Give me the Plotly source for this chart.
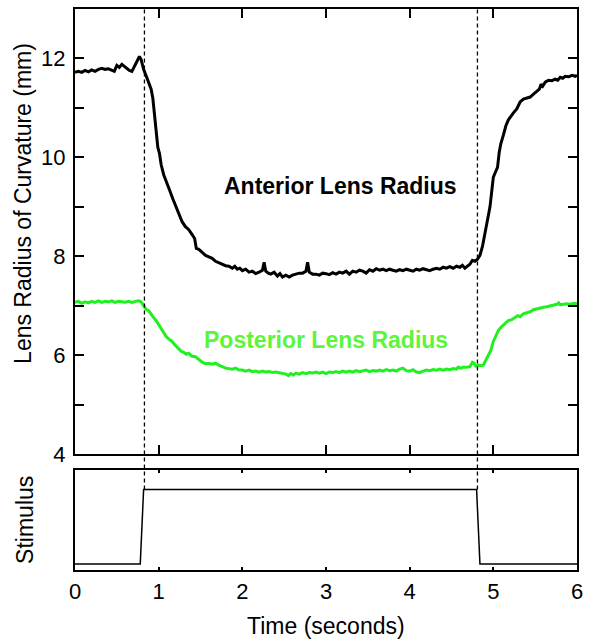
import plotly.graph_objects as go

# ---------------- data ----------------
ant_x = [0.00, 0.04, 0.08, 0.12, 0.16, 0.20, 0.24, 0.28, 0.32, 0.36, 0.40, 0.44, 0.47, 0.50, 0.53,
         0.56, 0.59, 0.62, 0.65, 0.68, 0.72, 0.75, 0.77, 0.79, 0.82, 0.85, 0.88, 0.91, 0.93, 0.95,
         0.97, 0.99, 1.01, 1.03, 1.06, 1.09, 1.13, 1.17, 1.21, 1.25, 1.28, 1.32, 1.36, 1.40, 1.43,
         1.45, 1.48, 1.52, 1.56, 1.60, 1.64, 1.68, 1.72, 1.76, 1.80, 1.84, 1.88, 1.91, 1.94, 1.97,
         2.00, 2.04, 2.08, 2.12, 2.16, 2.20, 2.24, 2.26, 2.28, 2.31, 2.34, 2.38, 2.42, 2.45, 2.48,
         2.52, 2.56, 2.60, 2.64, 2.68, 2.72, 2.76, 2.78, 2.80, 2.84, 2.88, 2.92, 2.96, 3.00, 3.04,
         3.08, 3.12, 3.16, 3.20, 3.24, 3.28, 3.32, 3.36, 3.40, 3.44, 3.48, 3.52, 3.56, 3.60, 3.64,
         3.68, 3.72, 3.76, 3.80, 3.84, 3.88, 3.92, 3.96, 4.00, 4.04, 4.08, 4.12, 4.16, 4.20, 4.24,
         4.28, 4.32, 4.36, 4.40, 4.44, 4.48, 4.52, 4.56, 4.60, 4.63, 4.66, 4.69, 4.72, 4.75, 4.78,
         4.81, 4.84, 4.87, 4.90, 4.93, 4.96, 4.98, 5.00, 5.03, 5.05, 5.07, 5.09, 5.12, 5.15, 5.18,
         5.21, 5.24, 5.28, 5.32, 5.36, 5.40, 5.44, 5.48, 5.52, 5.55, 5.57, 5.59, 5.62, 5.66, 5.70,
         5.74, 5.77, 5.80, 5.83, 5.86, 5.90, 5.94, 5.98, 6.00]
ant_y = [11.72, 11.74, 11.72, 11.76, 11.73, 11.77, 11.74, 11.78, 11.80, 11.78, 11.79, 11.76, 11.74, 11.86, 11.82,
         11.88, 11.84, 11.80, 11.76, 11.74, 11.88, 11.98, 12.04, 11.98, 11.78, 11.65, 11.52, 11.38, 11.20, 10.85,
         10.45, 10.20, 10.08, 9.85, 9.65, 9.50, 9.34, 9.16, 9.00, 8.82, 8.70, 8.60, 8.54, 8.44, 8.36,
         8.16, 8.14, 8.08, 8.02, 7.99, 7.96, 7.90, 7.87, 7.84, 7.81, 7.80, 7.76, 7.80, 7.74, 7.76,
         7.71, 7.74, 7.68, 7.70, 7.65, 7.68, 7.72, 7.88, 7.70, 7.66, 7.64, 7.68, 7.60, 7.65, 7.58,
         7.62, 7.58, 7.62, 7.64, 7.66, 7.66, 7.70, 7.88, 7.68, 7.64, 7.64, 7.62, 7.66, 7.65, 7.63,
         7.67, 7.64, 7.68, 7.66, 7.70, 7.64, 7.70, 7.68, 7.72, 7.70, 7.66, 7.73, 7.70, 7.75, 7.72,
         7.74, 7.71, 7.74, 7.72, 7.70, 7.73, 7.71, 7.74, 7.72, 7.70, 7.74, 7.72, 7.75, 7.73, 7.71,
         7.74, 7.76, 7.74, 7.78, 7.76, 7.79, 7.76, 7.80, 7.78, 7.82, 7.76, 7.80, 7.84, 7.92, 7.90,
         7.94, 8.02, 8.20, 8.46, 8.72, 9.00, 9.30, 9.60, 9.72, 9.80, 10.10, 10.28, 10.45, 10.64, 10.76,
         10.84, 10.90, 10.98, 11.12, 11.18, 11.20, 11.22, 11.28, 11.34, 11.38, 11.48, 11.44, 11.52, 11.56, 11.55,
         11.58, 11.56, 11.62, 11.60, 11.64, 11.63, 11.66, 11.64, 11.66]

post_x = [0.00, 0.04, 0.08, 0.12, 0.16, 0.20, 0.24, 0.28, 0.32, 0.36, 0.40, 0.44, 0.48, 0.52, 0.56,
          0.60, 0.64, 0.68, 0.72, 0.76, 0.79, 0.82, 0.85, 0.88, 0.91, 0.94, 0.97, 1.00, 1.03, 1.06,
          1.09, 1.12, 1.16, 1.20, 1.24, 1.27, 1.30, 1.33, 1.36, 1.40, 1.44, 1.48, 1.52, 1.56, 1.60,
          1.64, 1.68, 1.72, 1.76, 1.80, 1.84, 1.88, 1.92, 1.96, 2.00, 2.04, 2.08, 2.12, 2.16, 2.20,
          2.24, 2.28, 2.32, 2.36, 2.40, 2.44, 2.48, 2.52, 2.55, 2.58, 2.61, 2.64, 2.68, 2.72, 2.76,
          2.80, 2.84, 2.88, 2.92, 2.96, 3.00, 3.04, 3.08, 3.12, 3.16, 3.20, 3.24, 3.28, 3.32, 3.36,
          3.40, 3.44, 3.48, 3.52, 3.56, 3.60, 3.64, 3.68, 3.72, 3.76, 3.80, 3.84, 3.88, 3.92, 3.96,
          4.00, 4.04, 4.08, 4.12, 4.16, 4.20, 4.24, 4.28, 4.32, 4.36, 4.40, 4.44, 4.48, 4.52, 4.56,
          4.58, 4.61, 4.64, 4.68, 4.72, 4.75, 4.77, 4.79, 4.82, 4.85, 4.88, 4.91, 4.94, 4.97, 5.00,
          5.03, 5.06, 5.10, 5.14, 5.18, 5.22, 5.26, 5.29, 5.32, 5.36, 5.40, 5.44, 5.48, 5.52, 5.56,
          5.60, 5.64, 5.68, 5.72, 5.76, 5.78, 5.80, 5.84, 5.88, 5.92, 5.96, 6.00]
post_y = [7.07, 7.09, 7.05, 7.08, 7.06, 7.09, 7.07, 7.10, 7.07, 7.09, 7.08, 7.10, 7.07, 7.09, 7.08,
          7.07, 7.09, 7.07, 7.09, 7.10, 7.08, 7.00, 6.93, 6.90, 6.82, 6.76, 6.70, 6.62, 6.52, 6.44,
          6.38, 6.33, 6.28, 6.20, 6.14, 6.08, 6.06, 6.02, 6.04, 5.98, 5.97, 5.92, 5.86, 5.83, 5.84,
          5.82, 5.84, 5.80, 5.77, 5.74, 5.73, 5.72, 5.74, 5.70, 5.70, 5.68, 5.70, 5.67, 5.68, 5.66,
          5.68, 5.66, 5.67, 5.65, 5.66, 5.65, 5.64, 5.62, 5.59, 5.63, 5.60, 5.64, 5.62, 5.65, 5.63,
          5.65, 5.64, 5.66, 5.64, 5.66, 5.63, 5.66, 5.65, 5.67, 5.65, 5.68, 5.66, 5.68, 5.66, 5.69,
          5.67, 5.68, 5.70, 5.67, 5.69, 5.68, 5.70, 5.68, 5.71, 5.69, 5.70, 5.68, 5.72, 5.74, 5.69,
          5.68, 5.71, 5.66, 5.65, 5.68, 5.70, 5.69, 5.71, 5.70, 5.72, 5.70, 5.72, 5.71, 5.73, 5.72,
          5.76, 5.74, 5.76, 5.76, 5.77, 5.86, 5.84, 5.78, 5.80, 5.79, 5.80, 5.90, 6.00, 6.10, 6.28,
          6.40, 6.50, 6.58, 6.64, 6.70, 6.72, 6.76, 6.80, 6.78, 6.84, 6.86, 6.88, 6.92, 6.94, 6.96,
          6.97, 6.98, 7.00, 7.01, 7.03, 7.06, 7.02, 7.03, 7.04, 7.03, 7.05, 7.04]

stim_x = [0.0, 0.78, 0.82, 4.80, 4.84, 6.0]
stim_y = [0, 0, 1, 1, 0, 0]

event_times = [0.83, 4.81]

x_ticks = [0, 1, 2, 3, 4, 5, 6]
y_ticks = [4, 5, 6, 7, 8, 9, 10, 11, 12]
y_ticktext = ["4", "", "6", "", "8", "", "10", "", "12"]

x_range = [0, 6]
y_range = [4, 13]
s_range = [-0.08, 1.26]

# ---------------- figure ----------------
FONT = "Liberation Sans, Arial, sans-serif"
top_dom = [0.2064, 1.0]
bot_dom = [0.0, 0.1779]

fig = go.Figure()
fig.add_trace(go.Scatter(x=ant_x, y=ant_y, mode="lines", line=dict(color="black", width=3),
                         xaxis="x", yaxis="y", showlegend=False))
fig.add_trace(go.Scatter(x=post_x, y=post_y, mode="lines", line=dict(color="#1ff01f", width=3),
                         xaxis="x", yaxis="y", showlegend=False))
fig.add_trace(go.Scatter(x=stim_x, y=stim_y, mode="lines", line=dict(color="black", width=1.5),
                         xaxis="x2", yaxis="y2", showlegend=False))

# dashed event lines: from top of upper panel down to stimulus "on" level
stim_on_paper = bot_dom[0] + (1 - s_range[0]) / (s_range[1] - s_range[0]) * (bot_dom[1] - bot_dom[0])
for t in event_times:
    fig.add_shape(type="line", xref="x", yref="paper", x0=t, x1=t, y0=stim_on_paper, y1=1,
                  line=dict(color="black", width=1.3, dash="4px,3px"))

axis_common = dict(showline=True, linecolor="black", mirror="ticks", ticks="inside",
                   tickcolor="black", showgrid=False, zeroline=False)

fig.update_layout(
    width=590, height=641,
    margin=dict(l=75, r=7, t=8, b=71),
    plot_bgcolor="white", paper_bgcolor="white",
    font=dict(family=FONT, color="black"),
    xaxis=dict(domain=[0, 1], anchor="y", range=x_range, tickvals=x_ticks, showticklabels=False,
               linewidth=2, ticklen=9, tickwidth=2, **axis_common),
    yaxis=dict(domain=top_dom, anchor="x", range=y_range, tickvals=y_ticks, ticktext=y_ticktext,
               linewidth=2, ticklen=9, tickwidth=2, tickfont=dict(size=22), ticklabelstandoff=3,
               **axis_common),
    xaxis2=dict(domain=[0, 1], anchor="y2", range=x_range, tickvals=x_ticks,
                linewidth=1.5, ticklen=3, tickwidth=1.5, tickfont=dict(size=22), ticklabelstandoff=1,
                **axis_common),
    yaxis2=dict(domain=bot_dom, anchor="x2", range=s_range, showticklabels=False,
                showline=True, linecolor="black", mirror=True, ticks="", linewidth=1.5,
                showgrid=False, zeroline=False),
    annotations=[
        dict(text="<b>Anterior Lens Radius</b>", x=3.17, y=9.43, xref="x", yref="y", showarrow=False,
             font=dict(size=23, color="black", family=FONT)),
        dict(text="<b>Posterior Lens Radius</b>", x=3.0, y=6.30, xref="x", yref="y", showarrow=False,
             font=dict(size=23, color="#5df53a", family=FONT)),
        dict(text="Lens Radius of Curvature (mm)", x=-0.104, y=0.654, xref="paper", yref="paper",
             xanchor="center", yanchor="middle",
             textangle=-90, showarrow=False, font=dict(size=23, family=FONT)),
        dict(text="Stimulus", x=-0.10, y=(bot_dom[0] + bot_dom[1]) / 2, xref="paper", yref="paper",
             xanchor="center", yanchor="middle",
             textangle=-90, showarrow=False, font=dict(size=23, family=FONT)),
        dict(text="Time (seconds)", x=0.5, y=-0.0996, xref="paper", yref="paper", showarrow=False,
             xanchor="center", yanchor="middle", font=dict(size=23, family=FONT)),
    ],
)

fig.write_html("out.html")
